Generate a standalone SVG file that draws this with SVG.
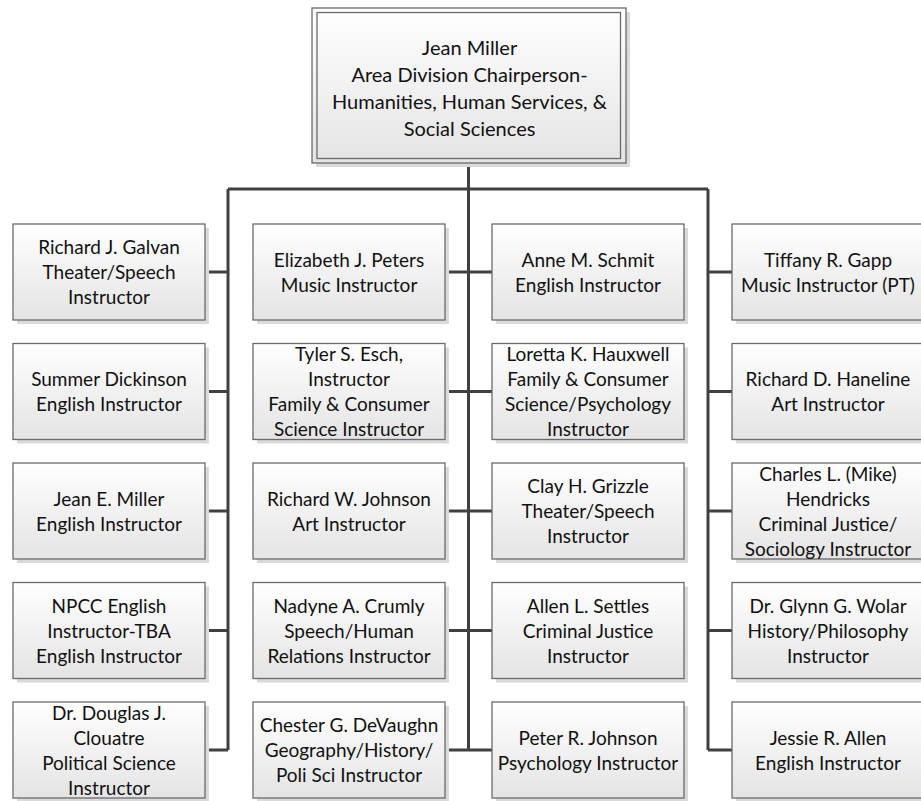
<svg xmlns="http://www.w3.org/2000/svg" width="921" height="801" viewBox="0 0 921 801">
<defs>
<linearGradient id="g" x1="0" y1="0" x2="0" y2="1">
<stop offset="0" stop-color="#ffffff"/>
<stop offset="1" stop-color="#e4e4e4"/>
</linearGradient>
<style>
.sh{fill:#dadada}
.bx{fill:url(#g);stroke:#6a6a6a;stroke-width:1.3}
.in{fill:none;stroke:#6a6a6a;stroke-width:1.3}
.t{font-family:Lato,"Liberation Sans",sans-serif;font-size:19px;fill:#111111;text-anchor:middle}
.c{fill:none;stroke:#404040;stroke-width:3}
</style>
</defs>
<rect width="921" height="801" fill="#ffffff"/>
<g id="connectors">
<path class="c" d="M468.5 163V750M228 189H708M228 189V750M708 189V750"/>
<path class="c" d="M205 272H228M205 391.5H228M205 511H228M205 630.5H228M205 750H228"/>
<path class="c" d="M445 272H492M445 391.5H492M445 511H492M445 630.5H492M445 750H492"/>
<path class="c" d="M708 272H732M708 391.5H732M708 511H732M708 630.5H732M708 750H732"/>
</g>
<g id="top">
<rect class="sh" x="316" y="12" width="314" height="155"/>
<rect class="bx" x="312" y="8" width="314" height="155"/>
<rect class="in" x="317" y="12.5" width="303.5" height="146"/>
<text class="t" style="font-size:20px"><tspan x="469.5" y="55">Jean Miller</tspan><tspan x="469.5" y="82">Area Division Chairperson-</tspan><tspan x="469.5" y="109">Humanities, Human Services, &amp;</tspan><tspan x="469.5" y="136">Social Sciences</tspan></text>
</g>
<g id="n11"><rect class="sh" x="17" y="228" width="192" height="96"/><rect class="bx" x="13" y="224" width="192" height="96"/><text class="t"><tspan x="109" y="254">Richard J. Galvan</tspan><tspan x="109" y="279">Theater/Speech</tspan><tspan x="109" y="304">Instructor</tspan></text></g>
<g id="n12"><rect class="sh" x="17" y="347.5" width="192" height="96"/><rect class="bx" x="13" y="343.5" width="192" height="96"/><text class="t"><tspan x="109" y="386">Summer Dickinson</tspan><tspan x="109" y="411">English Instructor</tspan></text></g>
<g id="n13"><rect class="sh" x="17" y="467" width="192" height="96"/><rect class="bx" x="13" y="463" width="192" height="96"/><text class="t"><tspan x="109" y="505.5">Jean E. Miller</tspan><tspan x="109" y="530.5">English Instructor</tspan></text></g>
<g id="n14"><rect class="sh" x="17" y="586.5" width="192" height="96"/><rect class="bx" x="13" y="582.5" width="192" height="96"/><text class="t"><tspan x="109" y="612.5">NPCC English</tspan><tspan x="109" y="637.5">Instructor-TBA</tspan><tspan x="109" y="662.5">English Instructor</tspan></text></g>
<g id="n15"><rect class="sh" x="17" y="706" width="192" height="96"/><rect class="bx" x="13" y="702" width="192" height="96"/><text class="t"><tspan x="109" y="719.5">Dr. Douglas J.</tspan><tspan x="109" y="744.5">Clouatre</tspan><tspan x="109" y="769.5">Political Science</tspan><tspan x="109" y="794.5">Instructor</tspan></text></g>
<g id="n21"><rect class="sh" x="257" y="228" width="192" height="96"/><rect class="bx" x="253" y="224" width="192" height="96"/><text class="t"><tspan x="349" y="266.5">Elizabeth J. Peters</tspan><tspan x="349" y="291.5">Music Instructor</tspan></text></g>
<g id="n22"><rect class="sh" x="257" y="347.5" width="192" height="96"/><rect class="bx" x="253" y="343.5" width="192" height="96"/><text class="t"><tspan x="349" y="361">Tyler S. Esch,</tspan><tspan x="349" y="386">Instructor</tspan><tspan x="349" y="411">Family &amp; Consumer</tspan><tspan x="349" y="436">Science Instructor</tspan></text></g>
<g id="n23"><rect class="sh" x="257" y="467" width="192" height="96"/><rect class="bx" x="253" y="463" width="192" height="96"/><text class="t"><tspan x="349" y="505.5">Richard W. Johnson</tspan><tspan x="349" y="530.5">Art Instructor</tspan></text></g>
<g id="n24"><rect class="sh" x="257" y="586.5" width="192" height="96"/><rect class="bx" x="253" y="582.5" width="192" height="96"/><text class="t"><tspan x="349" y="612.5">Nadyne A. Crumly</tspan><tspan x="349" y="637.5">Speech/Human</tspan><tspan x="349" y="662.5">Relations Instructor</tspan></text></g>
<g id="n25"><rect class="sh" x="257" y="706" width="192" height="96"/><rect class="bx" x="253" y="702" width="192" height="96"/><text class="t"><tspan x="349" y="732">Chester G. DeVaughn</tspan><tspan x="349" y="757">Geography/History/</tspan><tspan x="349" y="782">Poli Sci Instructor</tspan></text></g>
<g id="n31"><rect class="sh" x="496" y="228" width="192" height="96"/><rect class="bx" x="492" y="224" width="192" height="96"/><text class="t"><tspan x="588" y="266.5">Anne M. Schmit</tspan><tspan x="588" y="291.5">English Instructor</tspan></text></g>
<g id="n32"><rect class="sh" x="496" y="347.5" width="192" height="96"/><rect class="bx" x="492" y="343.5" width="192" height="96"/><text class="t"><tspan x="588" y="361">Loretta K. Hauxwell</tspan><tspan x="588" y="386">Family &amp; Consumer</tspan><tspan x="588" y="411">Science/Psychology</tspan><tspan x="588" y="436">Instructor</tspan></text></g>
<g id="n33"><rect class="sh" x="496" y="467" width="192" height="96"/><rect class="bx" x="492" y="463" width="192" height="96"/><text class="t"><tspan x="588" y="493">Clay H. Grizzle</tspan><tspan x="588" y="518">Theater/Speech</tspan><tspan x="588" y="543">Instructor</tspan></text></g>
<g id="n34"><rect class="sh" x="496" y="586.5" width="192" height="96"/><rect class="bx" x="492" y="582.5" width="192" height="96"/><text class="t"><tspan x="588" y="612.5">Allen L. Settles</tspan><tspan x="588" y="637.5">Criminal Justice</tspan><tspan x="588" y="662.5">Instructor</tspan></text></g>
<g id="n35"><rect class="sh" x="496" y="706" width="192" height="96"/><rect class="bx" x="492" y="702" width="192" height="96"/><text class="t"><tspan x="588" y="744.5">Peter R. Johnson</tspan><tspan x="588" y="769.5">Psychology Instructor</tspan></text></g>
<g id="n41"><rect class="sh" x="736" y="228" width="192" height="96"/><rect class="bx" x="732" y="224" width="192" height="96"/><text class="t"><tspan x="828" y="266.5">Tiffany R. Gapp</tspan><tspan x="828" y="291.5">Music Instructor (PT)</tspan></text></g>
<g id="n42"><rect class="sh" x="736" y="347.5" width="192" height="96"/><rect class="bx" x="732" y="343.5" width="192" height="96"/><text class="t"><tspan x="828" y="386">Richard D. Haneline</tspan><tspan x="828" y="411">Art Instructor</tspan></text></g>
<g id="n43"><rect class="sh" x="736" y="467" width="192" height="96"/><rect class="bx" x="732" y="463" width="192" height="96"/><text class="t"><tspan x="828" y="480.5">Charles L. (Mike)</tspan><tspan x="828" y="505.5">Hendricks</tspan><tspan x="828" y="530.5">Criminal Justice/</tspan><tspan x="828" y="555.5">Sociology Instructor</tspan></text></g>
<g id="n44"><rect class="sh" x="736" y="586.5" width="192" height="96"/><rect class="bx" x="732" y="582.5" width="192" height="96"/><text class="t"><tspan x="828" y="612.5">Dr. Glynn G. Wolar</tspan><tspan x="828" y="637.5">History/Philosophy</tspan><tspan x="828" y="662.5">Instructor</tspan></text></g>
<g id="n45"><rect class="sh" x="736" y="706" width="192" height="96"/><rect class="bx" x="732" y="702" width="192" height="96"/><text class="t"><tspan x="828" y="744.5">Jessie R. Allen</tspan><tspan x="828" y="769.5">English Instructor</tspan></text></g>
</svg>
